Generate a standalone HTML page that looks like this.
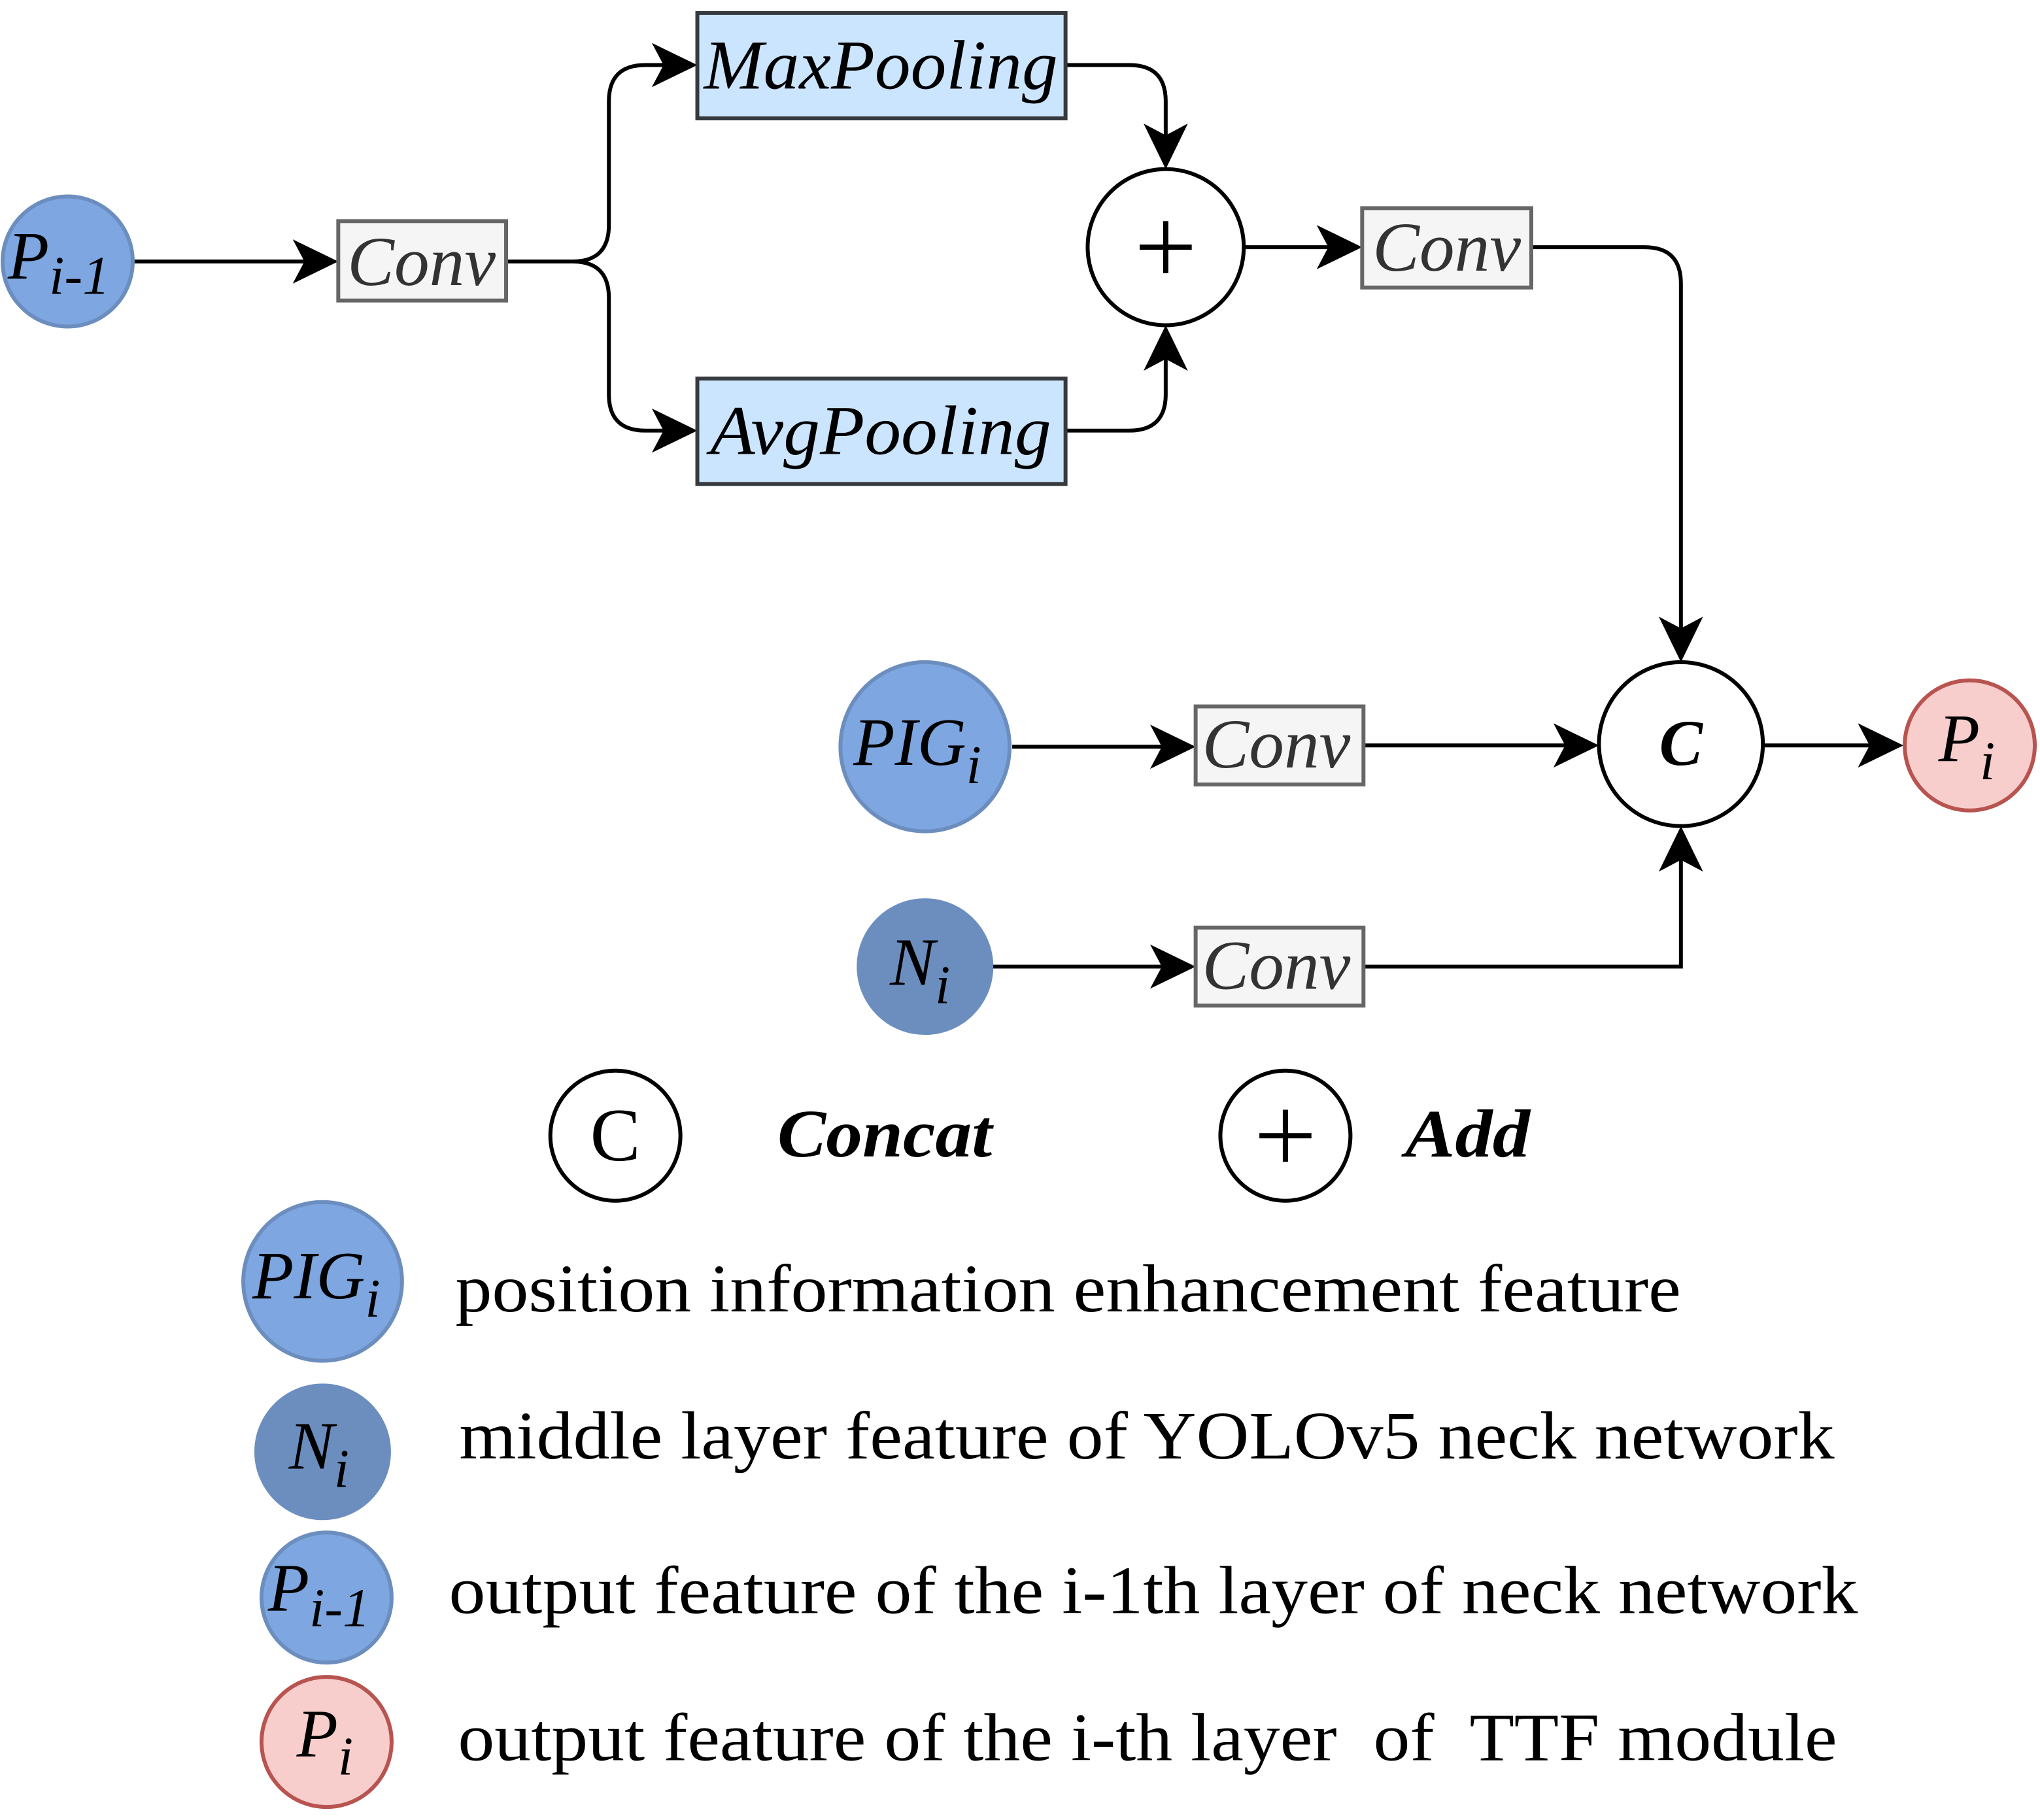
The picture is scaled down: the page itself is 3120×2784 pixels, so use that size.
<!DOCTYPE html>
<html><head><meta charset="utf-8"><style>
html,body{margin:0;padding:0;background:#fff;}
svg{display:block;}
text{font-family:"Liberation Serif",serif;white-space:pre;}
</style></head><body>
<svg width="3120" height="2784" viewBox="0 0 1568 1399" preserveAspectRatio="none" xmlns="http://www.w3.org/2000/svg">
<g stroke="#000" stroke-width="3" fill="none">
<line x1="103" y1="201" x2="240" y2="201"/>
<path d="M389 201 H440 Q468 201 468 173 V78 Q468 50 496 50 H518"/>
<path d="M389 201 H440 Q468 201 468 229 V303 Q468 331 496 331 H518"/>
<path d="M819 50 H868 Q896 50 896 78 V112"/>
<path d="M819 331 H868 Q896 331 896 303 V268"/>
<line x1="956" y1="190" x2="1028" y2="190"/>
<path d="M1177 190 H1264 Q1292 190 1292 218 V490"/>
<line x1="778" y1="574" x2="900" y2="574"/>
<line x1="1048" y1="573" x2="1210" y2="573"/>
<line x1="763" y1="743" x2="900" y2="743"/>
<path d="M1048 743 H1292 V653"/>
<line x1="1355" y1="573" x2="1444" y2="573"/>
</g>
<g fill="#000">
<path d="M260 201 L225 184 L234 201 L225 218Z"/>
<path d="M536 50 L501 33 L510 50 L501 67Z"/>
<path d="M536 331 L501 314 L510 331 L501 348Z"/>
<path d="M896 130 L879 95 L896 104 L913 95Z"/>
<path d="M896 250 L879 285 L896 276 L913 285Z"/>
<path d="M1047 190 L1012 173 L1021 190 L1012 207Z"/>
<path d="M1292 509 L1275 474 L1292 483 L1309 474Z"/>
<path d="M919 574 L884 557 L893 574 L884 591Z"/>
<path d="M1229 573 L1194 556 L1203 573 L1194 590Z"/>
<path d="M919 743 L884 726 L893 743 L884 760Z"/>
<path d="M1292 635 L1275 670 L1292 661 L1309 670Z"/>
<path d="M1463 573 L1428 556 L1437 573 L1428 590Z"/>
</g>
<g stroke-width="3">
<rect x="260" y="170" width="129" height="61" fill="#f5f5f5" stroke="#666"/>
<rect x="536" y="10" width="283" height="81" fill="#cce5ff" stroke="#36393d"/>
<rect x="536" y="291" width="283" height="81" fill="#cce5ff" stroke="#36393d"/>
<rect x="1047" y="160" width="130" height="61" fill="#f5f5f5" stroke="#666"/>
<rect x="919" y="543" width="129" height="60" fill="#f5f5f5" stroke="#666"/>
<rect x="919" y="713" width="129" height="60" fill="#f5f5f5" stroke="#666"/>
</g>
<g font-style="italic" font-size="54" fill="#333" text-anchor="middle">
<text x="324" y="219">Conv</text>
<text x="1112" y="208">Conv</text>
<text x="981" y="590">Conv</text>
<text x="981" y="760">Conv</text>
</g>
<g font-style="italic" font-size="54" fill="#000" text-anchor="middle">
<text x="677" y="68" textLength="272" lengthAdjust="spacingAndGlyphs">MaxPooling</text>
<text x="677" y="349" textLength="262" lengthAdjust="spacingAndGlyphs">AvgPooling</text>
</g>
<g stroke-width="3">
<circle cx="52" cy="201" r="50" fill="#7ea6e0" stroke="#6c8ebf"/>
<circle cx="896" cy="190" r="60" fill="#fff" stroke="#000"/>
<circle cx="1292" cy="572" r="63" fill="#fff" stroke="#000"/>
<circle cx="711" cy="574" r="65" fill="#7ea6e0" stroke="#6c8ebf"/>
<circle cx="711" cy="743" r="51" fill="#6c8ebf" stroke="#6c8ebf"/>
<circle cx="1514" cy="573" r="50" fill="#f8cecc" stroke="#b85450"/>
<circle cx="473" cy="873" r="50" fill="#fff" stroke="#000"/>
<circle cx="988" cy="873" r="50" fill="#fff" stroke="#000"/>
<circle cx="248" cy="985" r="61" fill="#7ea6e0" stroke="#6c8ebf"/>
<circle cx="248" cy="1116" r="51" fill="#6c8ebf" stroke="#6c8ebf"/>
<circle cx="251" cy="1228" r="50" fill="#7ea6e0" stroke="#6c8ebf"/>
<circle cx="251" cy="1339" r="50" fill="#f8cecc" stroke="#b85450"/>
</g>
<g stroke="#000" stroke-width="4">
<line x1="876" y1="190" x2="916" y2="190"/><line x1="896" y1="170" x2="896" y2="210"/>
<line x1="968" y1="873" x2="1008" y2="873"/><line x1="988" y1="853" x2="988" y2="893"/>
</g>
<g font-style="italic" fill="#000" font-size="52">
<text x="6" y="214">P<tspan font-size="42" dy="12">i-1</tspan></text>
<text x="656" y="588">PIG<tspan font-size="42" dy="14">i</tspan></text>
<text x="684" y="757">N<tspan font-size="42" dy="14">i</tspan></text>
<text x="1490" y="585">P<tspan font-size="42" dy="14">i</tspan></text>
<text x="194" y="998">PIG<tspan font-size="42" dy="14">i</tspan></text>
<text x="222" y="1129">N<tspan font-size="42" dy="14">i</tspan></text>
<text x="206" y="1238">P<tspan font-size="42" dy="12">i-1</tspan></text>
<text x="228" y="1350">P<tspan font-size="42" dy="14">i</tspan></text>
</g>
<text x="1292" y="588" font-style="italic" font-weight="bold" font-size="50" text-anchor="middle">C</text>
<text x="473" y="892" font-size="58" text-anchor="middle">C</text>
<text x="680" y="889" font-style="italic" font-weight="bold" font-size="52" text-anchor="middle" textLength="165" lengthAdjust="spacingAndGlyphs">Concat</text>
<text x="1128" y="889" font-style="italic" font-weight="bold" font-size="52" text-anchor="middle" textLength="96" lengthAdjust="spacingAndGlyphs">Add</text>
<g font-size="52" fill="#000">
<text x="350" y="1008" textLength="942" lengthAdjust="spacingAndGlyphs">position information enhancement feature</text>
<text x="353" y="1121" textLength="1057" lengthAdjust="spacingAndGlyphs">middle layer feature of YOLOv5 neck network</text>
<text x="345" y="1240" textLength="1083" lengthAdjust="spacingAndGlyphs">output feature of the i-1th layer of neck network</text>
<text x="352" y="1353" textLength="1060" lengthAdjust="spacingAndGlyphs">output feature of the i-th layer  of  TTF module</text>
</g>
</svg>
</body></html>
